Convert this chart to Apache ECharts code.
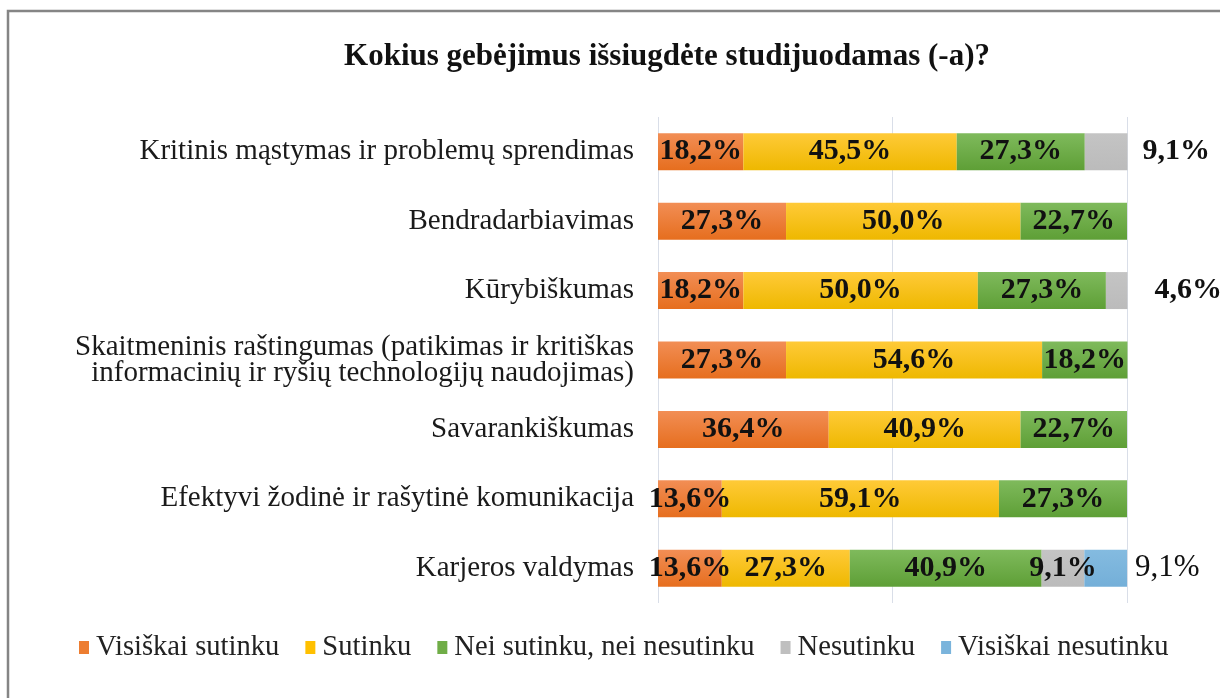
<!DOCTYPE html>
<html>
<head>
<meta charset="utf-8">
<script src="https://cdn.jsdelivr.net/npm/echarts@6/dist/echarts.min.js"></script>
<style>
html,body{margin:0;padding:0;background:#fff;}
#chart{width:1220px;height:698px;}
</style>
</head>
<body>
<div id="chart"></div>
<script>
var categories = [
  'Kritinis mąstymas ir problemų sprendimas',
  'Bendradarbiavimas',
  'Kūrybiškumas',
  'Skaitmeninis raštingumas (patikimas ir kritiškas\ninformacinių ir ryšių technologijų naudojimas)',
  'Savarankiškumas',
  'Efektyvi žodinė ir rašytinė komunikacija',
  'Karjeros valdymas'
];
var seriesNames = ['Visiškai sutinku', 'Sutinku', 'Nei sutinku, nei nesutinku', 'Nesutinku', 'Visiškai nesutinku'];
var visiskaiSutinku   = [18.2, 27.3, 18.2, 27.3, 36.4, 13.6, 13.6];
var sutinku           = [45.5, 50.0, 50.0, 54.6, 40.9, 59.1, 27.3];
var neiSutinkuNei     = [27.3, 22.7, 27.3, 18.2, 22.7, 27.3, 40.9];
var nesutinku         = [9.1, 0, 4.6, 0, 0, 0, 9.1];
var visiskaiNesutinku = [0, 0, 0, 0, 0, 0, 9.1];
var xTicks = [0, 50, 100];

var FONT = '"Liberation Serif", "Times New Roman", serif';
function grad(top, bottom) {
  return {type: 'linear', x: 0, y: 0, x2: 0, y2: 1,
    colorStops: [{offset: 0, color: top}, {offset: 1, color: bottom}]};
}
var colors = [
  grad('#F28E55', '#E66E1E'),
  grad('#FFCA38', '#EEB800'),
  grad('#7FBA5C', '#5E9F36'),
  grad('#C4C4C4', '#BBBBBB'),
  grad('#84BBE0', '#74AFD8')
];
var legendColors = ['#ED7D31', '#FFC000', '#70AD47', '#BFBFBF', '#7AB4DC'];
var allData = [visiskaiSutinku, sutinku, neiSutinkuNei, nesutinku, visiskaiNesutinku];

function fmt(v) { return v.toFixed(1).replace('.', ',') + '%'; }

// label overrides (style only): [seriesIndex]-[categoryIndex]
var labelOverrides = {
  '3-0': {position: 'right', distance: 15},
  '3-2': {position: 'right', distance: 27},
  '4-6': {position: 'right', distance: 8, fontWeight: 'normal', fontSize: 31}
};

var series = allData.map(function (arr, si) {
  return {
    name: seriesNames[si],
    type: 'bar',
    stack: 'total',
    barWidth: 37,
    clip: false,
    itemStyle: {color: colors[si]},
    label: {
      show: true,
      position: 'inside',
      fontFamily: FONT,
      fontSize: 30,
      fontWeight: 'bold',
      color: '#111',
      formatter: function (p) { return p.value ? fmt(p.value) : ''; }
    },
    data: arr.map(function (v, ci) {
      var o = labelOverrides[si + '-' + ci];
      return o ? {value: v, label: o} : v;
    })
  };
});

var chart = echarts.init(document.getElementById('chart'));
chart.setOption({
  backgroundColor: '#fff',
  animation: false,
  title: {
    text: 'Kokius gebėjimus išsiugdėte studijuodamas (-a)?',
    left: 662, top: 36, textAlign: 'center',
    textStyle: {fontFamily: FONT, fontSize: 31, fontWeight: 'bold', color: '#111'}
  },
  legend: {
    left: 74, top: 628,
    itemWidth: 10, itemHeight: 13, itemGap: 26,
    icon: 'rect',
    textStyle: {fontFamily: FONT, fontSize: 28.6, color: '#222', padding: [0, 0, 0, 2]},
    data: seriesNames.map(function (n, i) { return {name: n, itemStyle: {color: legendColors[i]}}; })
  },
  grid: {left: 658, right: 93, top: 117, bottom: 95, containLabel: false},
  xAxis: {
    type: 'value', min: 0, max: 100, interval: 50,
    axisLabel: {show: false}, axisLine: {show: false}, axisTick: {show: false},
    splitLine: {show: true, lineStyle: {color: '#D9DEE8', width: 1}}
  },
  yAxis: {
    type: 'category', inverse: true, data: categories,
    axisLine: {show: false}, axisTick: {show: false},
    axisLabel: {margin: 24, fontFamily: FONT, fontSize: 29, color: '#1a1a1a', lineHeight: 26, align: 'right'}
  },
  graphic: [{
    type: 'polyline',
    shape: {points: [[8, 700], [8, 11], [1222, 11]]},
    style: {stroke: '#858585', lineWidth: 2.5, fill: null}
  }],
  series: series
});
</script>
</body>
</html>
